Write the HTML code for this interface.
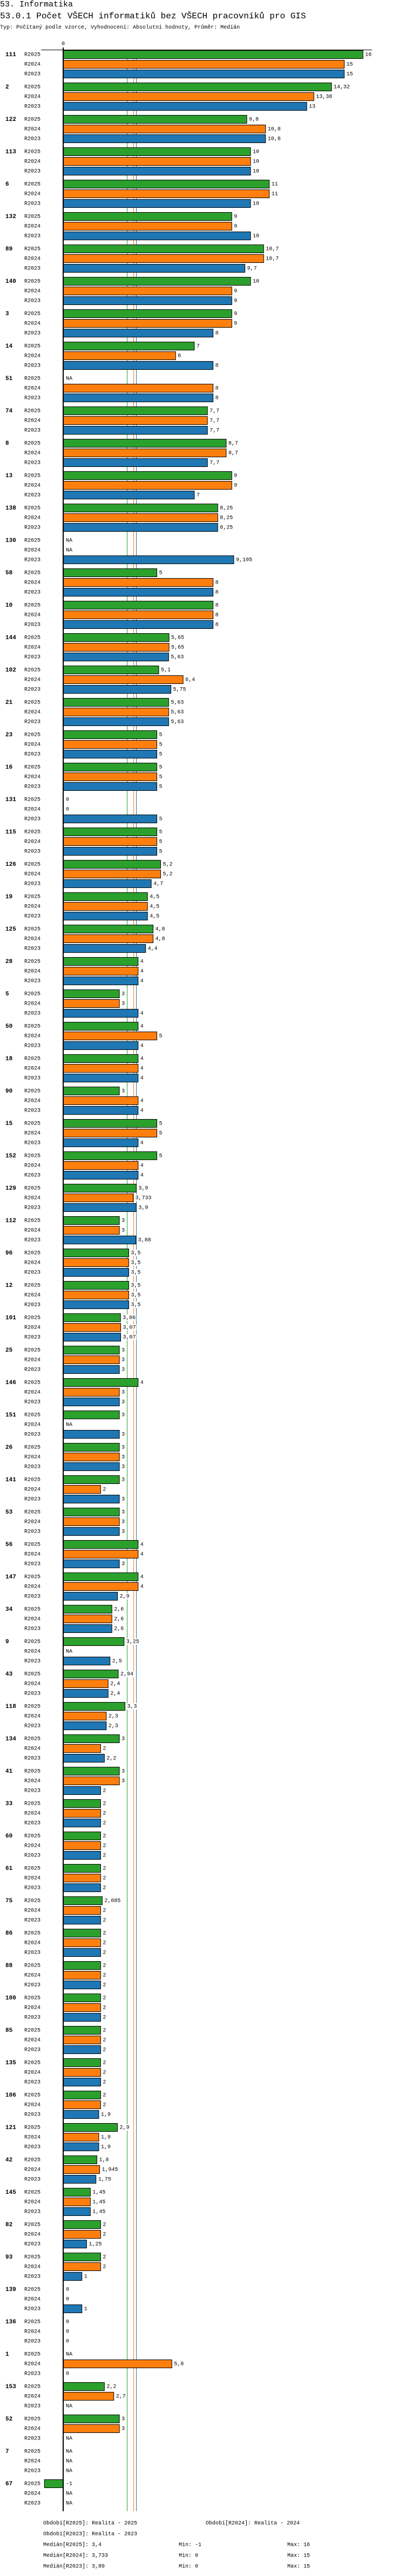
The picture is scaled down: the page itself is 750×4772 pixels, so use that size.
<!DOCTYPE html>
<html>
<head>
<meta charset="utf-8">
<style>
  html, body { margin:0; padding:0; background:#fff; }
  body { width:750px; height:4772px; position:relative; overflow:hidden; font-family:"Liberation Mono", monospace; color:#000; }
  .t1 { position:absolute; left:0; top:0; font-size:15px; line-height:17px; }
  .t2 { position:absolute; left:0; top:21px; font-size:16px; line-height:18px; }
  .t3 { position:absolute; left:0; top:46px; font-size:10px; line-height:12px; }
  svg { position:absolute; left:0; top:0; }
</style>
</head>
<body>
<div class="t1">53. Informatika</div>
<div class="t2">53.0.1 Počet VŠECH informatiků bez VŠECH pracovníků pro GIS</div>
<div class="t3">Typ: Počítaný podle vzorce, Vyhodnocení: Absolutní hodnoty, Průměr: Medián</div>
<svg id="chart" width="750" height="4772"></svg>
<script>
const categories = ["111","2","122","113","6","132","89","140","3","14","51","74","8","13","138","130","58","10","144","102","21","23","16","131","115","126","19","125","28","5","50","18","90","15","152","129","112","96","12","101","25","146","151","26","141","53","56","147","34","9","43","118","134","41","33","60","61","75","86","88","100","85","135","106","121","42","145","82","93","139","136","1","153","52","7","67"];
const seriesNames = ["R2025","R2024","R2023"];
const valuesR2025 = [16,14.32,9.8,10,11,9,10.7,10,9,7,null,7.7,8.7,9,8.25,null,5,8,5.65,5.1,5.63,5,5,0,5,5.2,4.5,4.8,4,3,4,4,3,5,5,3.9,3,3.5,3.5,3.06,3,4,3,3,3,3,4,4,2.6,3.25,2.94,3.3,3,3,2,2,2,2.085,2,2,2,2,2,2,2.9,1.8,1.45,2,2,0,0,null,2.2,3,null,-1];
const valuesR2024 = [15,13.38,10.8,10,11,9,10.7,9,9,6,8,7.7,8.7,9,8.25,null,8,8,5.65,6.4,5.63,5,5,0,5,5.2,4.5,4.8,4,3,5,4,4,5,4,3.733,3,3.5,3.5,3.07,3,3,null,3,2,3,4,4,2.6,null,2.4,2.3,2,3,2,2,2,2,2,2,2,2,2,2,1.9,1.945,1.45,2,2,0,0,5.8,2.7,3,null,null];
const valuesR2023 = [15,13,10.8,10,10,10,9.7,9,8,8,8,7.7,7.7,7,8.25,9.105,8,8,5.63,5.75,5.63,5,5,5,5,4.7,4.5,4.4,4,4,4,4,4,4,4,3.9,3.88,3.5,3.5,3.07,3,3,3,3,3,3,3,2.9,2.6,2.5,2.4,2.3,2.2,2,2,2,2,2,2,2,2,2,2,1.9,1.9,1.75,1.45,1.25,1,1,0,0,null,null,null,null];
const medians = [3.4,3.733,3.89];
const mins = [-1,0,0];
const maxs = [16,15,15];
const periodLabels = ["Realita - 2025","Realita - 2024","Realita - 2023"];
const colors = ["#2ca02c","#ff7f0e","#1f77b4"];

const NS = "http://www.w3.org/2000/svg";
const svg = document.getElementById("chart");
const X0 = 117, K = 34.7, TOP = 101, GROUP = 60, ROW = 18, BARH = 15, BOTTOM = 4652;
function xScale(v){ return X0 + v*K; }
function yCenter(g, s){ return TOP + g*GROUP + s*ROW; }
function fmt(v){ return String(v).replace(".", ","); }
function mk(tag, attrs){ const e=document.createElementNS(NS, tag); for(const k in attrs) e.setAttribute(k, attrs[k]); svg.appendChild(e); return e; }
function txt(x, y, s, size, weight, anchor){
  const t = mk("text", {x:x, y:y, "font-size":size, "font-family":"Liberation Mono, monospace", "dominant-baseline":"middle", "font-weight":weight||"normal", "text-anchor":anchor||"start"});
  t.textContent = s; return t;
}

// axis zero label and top line
let z = txt(X0, 81, "0", 10, "normal", "middle");


let tl = mk("line", {x1:76, y1:92.5, x2:689, y2:92.5, stroke:"#000", "stroke-width":1});



const allSeries = [valuesR2025, valuesR2024, valuesR2023];
categories.forEach((cat, g) => {
  const gl = txt(10, yCenter(g,0), cat, 11, "bold");
  
  
  allSeries.forEach((vals, s) => {
    const cy = yCenter(g, s);
    const sl = txt(45, cy, seriesNames[s], 10);
    
    
    const v = vals[g];
    let labelX = X0 + 5;
    if (v !== null && v !== 0) {
      const x1 = Math.min(xScale(0), xScale(v)), x2 = Math.max(xScale(0), xScale(v));
      const r = mk("rect", {x:x1, y:cy-7.5, width:x2-x1, height:BARH, fill:colors[s], stroke:"#000", "stroke-width":1});
      
      
      if (v > 0) labelX = x2 + 4;
    }
    const label = v === null ? "NA" : fmt(v);
    const w = label.length * 6 + 2;
    const bg = mk("rect", {x:labelX-1, y:cy-6, width:w, height:12, fill:"#fff"});
    
    
    const vl = txt(labelX, cy, label, 10);
    
    
  });
});

// median lines (drawn under labels visually: insert before first bar)
medians.forEach((m, s) => {
  const l = document.createElementNS(NS, "line");
  const x = Math.round(xScale(m)) + 0.5;
  l.setAttribute("x1", x); l.setAttribute("x2", x);
  l.setAttribute("y1", 92); l.setAttribute("y2", BOTTOM);
  l.setAttribute("stroke", colors[s]); l.setAttribute("stroke-width", 1);
  
  
  svg.insertBefore(l, svg.firstChild);
});
// zero axis
let ax = mk("line", {x1:X0, y1:88, x2:X0, y2:BOTTOM, stroke:"#000", "stroke-width":2});



// footer
function foot(x, y, s, name){
  const t = txt(x, y, s, 10);
  
  
}
foot(80, 4674, "Období[R2025]: " + periodLabels[0], "legend-period-r2025");
foot(381, 4674, "Období[R2024]: " + periodLabels[1], "legend-period-r2024");
foot(80, 4694, "Období[R2023]: " + periodLabels[2], "legend-period-r2023");
seriesNames.forEach((n, s) => {
  const y = 4714 + s*20;
  foot(80, y, "Medián[" + n + "]: " + fmt(medians[s]), "median-stat");
  foot(331, y, "Min: " + fmt(mins[s]), "min-stat");
  foot(532, y, "Max: " + fmt(maxs[s]), "max-stat");
});
</script>
</body>
</html>
